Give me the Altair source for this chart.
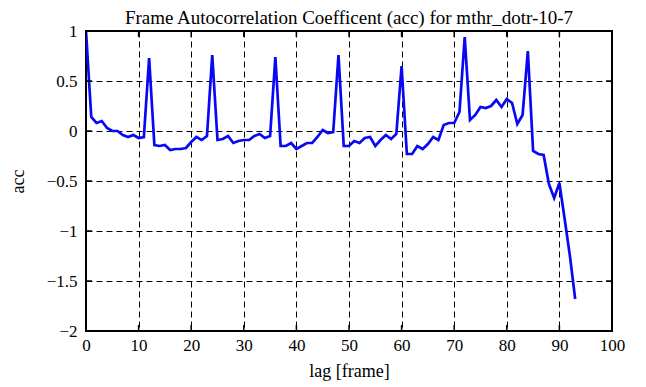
import altair as alt
import pandas as pd

lags = list(range(0, 94))
acc = [1.0, 0.14, 0.08, 0.10, 0.03, 0.00, 0.00, -0.04, -0.06, -0.04,
       -0.07, -0.06, 0.73, -0.14, -0.15, -0.14, -0.19, -0.18, -0.18, -0.17,
       -0.11, -0.06, -0.09, -0.05, 0.76, -0.09, -0.08, -0.05, -0.12, -0.10,
       -0.09, -0.09, -0.05, -0.03, -0.07, -0.05, 0.74, -0.15, -0.15, -0.12,
       -0.18, -0.15, -0.12, -0.12, -0.06, 0.01, -0.02, -0.01, 0.76, -0.15,
       -0.15, -0.10, -0.12, -0.07, -0.06, -0.15, -0.09, -0.04, -0.08, -0.03,
       0.65, -0.23, -0.23, -0.15, -0.18, -0.13, -0.06, -0.09, 0.06, 0.08,
       0.08, 0.19, 0.94, 0.11, 0.16, 0.24, 0.23, 0.25, 0.31, 0.24,
       0.32, 0.28, 0.07, 0.16, 0.80, -0.20, -0.23, -0.24, -0.53, -0.67,
       -0.52, -0.88, -1.25, -1.68]

x_ticks = [0, 10, 20, 30, 40, 50, 60, 70, 80, 90, 100]
y_ticks = [-2, -1.5, -1, -0.5, 0, 0.5, 1]

df = pd.DataFrame({"lag": lags, "acc": acc})
xt = pd.DataFrame({"t": x_ticks})
yt = pd.DataFrame({"t": y_ticks})

W, H = 526, 300
FONT = "Liberation Serif"

xscale = alt.Scale(domain=[0, 100], nice=False, zero=False)
yscale = alt.Scale(domain=[-2, 1], nice=False, zero=False)

line = alt.Chart(df).mark_line(color="#0808f4", strokeWidth=2.7, clip=True).encode(
    x=alt.X("lag:Q", scale=xscale,
            axis=alt.Axis(values=x_ticks, title="lag [frame]", grid=True,
                          gridDash=[6, 4], gridColor="black", gridOpacity=1, gridWidth=1,
                          domain=False, ticks=False, labelPadding=6, titlePadding=9,
                          labelFlush=False, labelOverlap=False)),
    y=alt.Y("acc:Q", scale=yscale,
            axis=alt.Axis(values=y_ticks, title="acc", grid=True,
                          gridDash=[6, 4], gridColor="black", gridOpacity=1, gridWidth=1,
                          domain=False, ticks=False, labelPadding=9, titlePadding=19,
                          labelFlush=False, labelOverlap=False,
                          format="~g")),
)

tick_len = 6
xb = alt.Chart(xt).mark_rule(color="black", strokeWidth=1.5).encode(
    x=alt.X("t:Q", scale=xscale), y=alt.value(H), y2=alt.value(H - tick_len))
xtop = alt.Chart(xt).mark_rule(color="black", strokeWidth=1.5).encode(
    x=alt.X("t:Q", scale=xscale), y=alt.value(0), y2=alt.value(tick_len))
yl = alt.Chart(yt).mark_rule(color="black", strokeWidth=1.5).encode(
    y=alt.Y("t:Q", scale=yscale), x=alt.value(0), x2=alt.value(tick_len))
yr = alt.Chart(yt).mark_rule(color="black", strokeWidth=1.5).encode(
    y=alt.Y("t:Q", scale=yscale), x=alt.value(W), x2=alt.value(W - tick_len))

chart = alt.layer(line, xb, xtop, yl, yr).properties(
    width=W, height=H,
    background="white",
    title=alt.TitleParams("Frame Autocorrelation Coefficent (acc) for mthr_dotr-10-7",
                          font=FONT, fontSize=19, fontWeight="normal", color="black",
                          offset=-6),
    autosize=alt.AutoSizeParams(type="none"),
    padding={"left": 78, "top": 23, "right": 20, "bottom": 60},
).configure_view(
    stroke="black", strokeWidth=2
).configure_axis(
    labelFont=FONT, labelFontSize=17, labelColor="black",
    titleFont=FONT, titleFontSize=18, titleFontWeight="normal", titleColor="black",
)

chart.save("out.html", embed_options={"renderer": "svg", "actions": False})
